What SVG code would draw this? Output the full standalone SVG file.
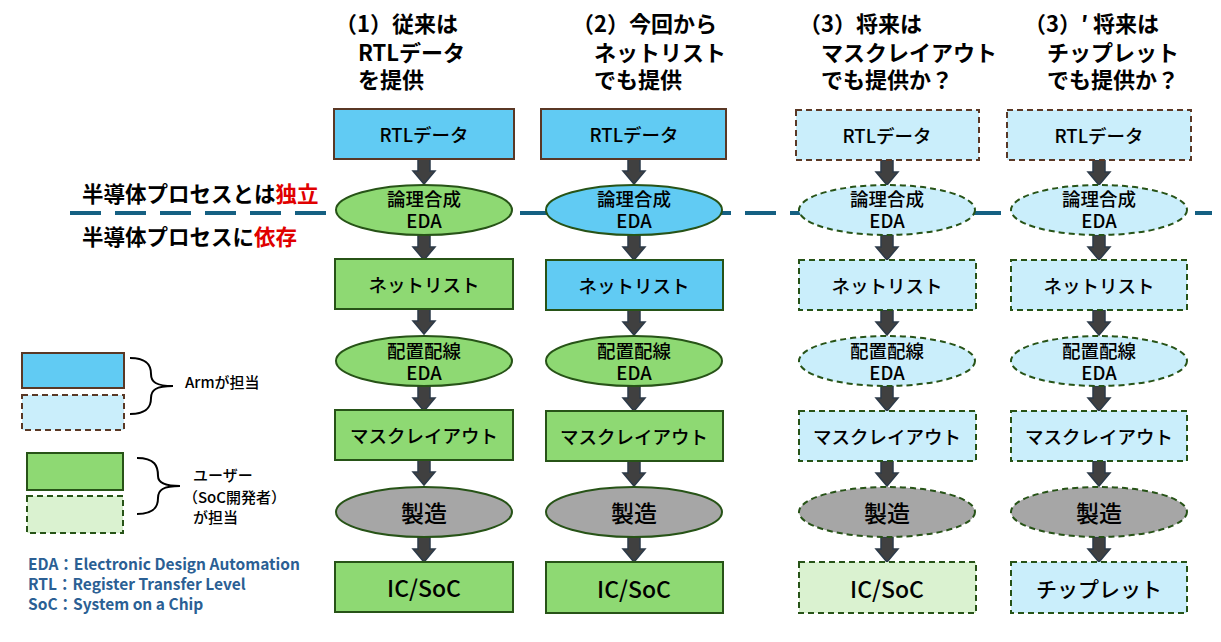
<svg xmlns="http://www.w3.org/2000/svg" width="1221" height="642" viewBox="0 0 1221 642">
<defs>
<style>
text{font-family:"Noto Sans CJK JP","Noto Sans",sans-serif;fill:#000}
.hd{font-size:22px;font-weight:bold}
.side{font-size:21.5px;font-weight:bold}
.red{fill:#E00000}
.nd{font-size:18.5px;text-anchor:middle;dominant-baseline:central;font-weight:500}
.big{font-size:23px}
.leg{font-size:15px;font-weight:500}
.foot{font-size:15.5px;font-weight:bold;fill:#2B5F94}
.blue{fill:#61CBF3;stroke:#5A3825;stroke-width:2}
.bluen{fill:#61CBF3;stroke:#275317;stroke-width:2}
.green{fill:#8ED973;stroke:#275317;stroke-width:2}
.gray{fill:#A6A6A6;stroke:#275317;stroke-width:2}
.lbB{fill:#CAEEFB;stroke:#5A3825;stroke-width:2;stroke-dasharray:6 4}
.lb{fill:#CAEEFB;stroke:#275317;stroke-width:2;stroke-dasharray:6 4}
.grayd{fill:#A6A6A6;stroke:#275317;stroke-width:2;stroke-dasharray:6 4}
.lg{fill:#DAF2D0;stroke:#275317;stroke-width:2;stroke-dasharray:6 4}
.brace{fill:none;stroke:#000;stroke-width:2}
</style>
<path id="arr" d="M-6,0 H6 V12 H11 L0,25 L-11,12 H-6 Z" fill="#404040" stroke="#2C3A48" stroke-width="1.5"/>
</defs>
<rect width="1221" height="642" fill="#fff"/>

<g id="headers">
<text class="hd" x="335" y="32">（1）従来は</text>
<text class="hd" x="358" y="61">RTLデータ</text>
<text class="hd" x="358" y="88">を提供</text>
<text class="hd" x="572" y="32">（2）今回から</text>
<text class="hd" x="594" y="61">ネットリスト</text>
<text class="hd" x="594" y="88">でも提供</text>
<text class="hd" x="799" y="32">（3）将来は</text>
<text class="hd" x="821" y="61">マスクレイアウト</text>
<text class="hd" x="821" y="88">でも提供か？</text>
<text class="hd" x="1024" y="32">（3）′ 将来は</text>
<text class="hd" x="1047" y="61">チップレット</text>
<text class="hd" x="1047" y="88">でも提供か？</text>
</g>

<g id="process-line">
<line x1="70" y1="213" x2="1212" y2="213" stroke="#156082" stroke-width="4" stroke-dasharray="31 14"/>
<text class="side" x="82" y="202">半導体プロセスとは<tspan class="red">独立</tspan></text>
<text class="side" x="82" y="245">半導体プロセスに<tspan class="red">依存</tspan></text>
</g>

<g id="connectors">
<use href="#arr" x="424" y="159"/>
<use href="#arr" x="424" y="235"/>
<use href="#arr" x="424" y="309"/>
<use href="#arr" x="424" y="386"/>
<use href="#arr" x="424" y="460"/>
<use href="#arr" x="424" y="537"/>
<use href="#arr" x="634" y="159"/>
<use href="#arr" x="634" y="235"/>
<use href="#arr" x="634" y="310"/>
<use href="#arr" x="634" y="386"/>
<use href="#arr" x="634" y="461"/>
<use href="#arr" x="634" y="537"/>
<use href="#arr" x="887" y="160"/>
<use href="#arr" x="887" y="235"/>
<use href="#arr" x="887" y="310"/>
<use href="#arr" x="887" y="386"/>
<use href="#arr" x="887" y="461"/>
<use href="#arr" x="887" y="537"/>
<use href="#arr" x="1099" y="160"/>
<use href="#arr" x="1099" y="235"/>
<use href="#arr" x="1099" y="310"/>
<use href="#arr" x="1099" y="386"/>
<use href="#arr" x="1099" y="461"/>
<use href="#arr" x="1099" y="537"/>
</g>

<!-- Column 1 -->
<g id="c1-rtl"><rect class="blue" x="334" y="109" width="180" height="50"/><text class="nd" x="424" y="134">RTLデータ</text></g>
<g id="c1-synth"><ellipse class="green" cx="424" cy="210" rx="88" ry="25"/><text class="nd" x="424" y="198">論理合成</text><text class="nd" x="424" y="220">EDA</text></g>
<g id="c1-netlist"><rect class="green" x="335" y="259" width="178" height="50"/><text class="nd" x="424" y="284">ネットリスト</text></g>
<g id="c1-pnr"><ellipse class="green" cx="424" cy="361" rx="88" ry="25"/><text class="nd" x="424" y="350">配置配線</text><text class="nd" x="424" y="372">EDA</text></g>
<g id="c1-mask"><rect class="green" x="335" y="410" width="178" height="50"/><text class="nd" x="424" y="435">マスクレイアウト</text></g>
<g id="c1-fab"><ellipse class="gray" cx="424" cy="512" rx="88" ry="25"/><text class="nd big" x="424" y="512">製造</text></g>
<g id="c1-ic"><rect class="green" x="335" y="562" width="178" height="50"/><text class="nd big" x="424" y="587">IC/SoC</text></g>

<!-- Column 2 -->
<g id="c2-rtl"><rect class="blue" x="541" y="109" width="185" height="50"/><text class="nd" x="634" y="134">RTLデータ</text></g>
<g id="c2-synth"><ellipse class="bluen" cx="634" cy="210" rx="88" ry="25"/><text class="nd" x="634" y="198">論理合成</text><text class="nd" x="634" y="220">EDA</text></g>
<g id="c2-netlist"><rect class="bluen" x="546" y="260" width="177" height="50"/><text class="nd" x="634" y="285">ネットリスト</text></g>
<g id="c2-pnr"><ellipse class="green" cx="634" cy="361" rx="88" ry="25"/><text class="nd" x="634" y="350">配置配線</text><text class="nd" x="634" y="372">EDA</text></g>
<g id="c2-mask"><rect class="green" x="546" y="411" width="177" height="50"/><text class="nd" x="634" y="436">マスクレイアウト</text></g>
<g id="c2-fab"><ellipse class="gray" cx="634" cy="512" rx="88" ry="25"/><text class="nd big" x="634" y="512">製造</text></g>
<g id="c2-ic"><rect class="green" x="546" y="562" width="177" height="51"/><text class="nd big" x="634" y="588">IC/SoC</text></g>

<!-- Column 3 -->
<g id="c3-rtl"><rect class="lbB" x="796" y="110" width="183" height="50"/><text class="nd" x="887" y="135">RTLデータ</text></g>
<g id="c3-synth"><ellipse class="lb" cx="887" cy="210" rx="88" ry="25"/><text class="nd" x="887" y="198">論理合成</text><text class="nd" x="887" y="220">EDA</text></g>
<g id="c3-netlist"><rect class="lb" x="799" y="260" width="177" height="50"/><text class="nd" x="887" y="285">ネットリスト</text></g>
<g id="c3-pnr"><ellipse class="lb" cx="887" cy="361" rx="88" ry="25"/><text class="nd" x="887" y="350">配置配線</text><text class="nd" x="887" y="372">EDA</text></g>
<g id="c3-mask"><rect class="lb" x="799" y="411" width="177" height="50"/><text class="nd" x="887" y="436">マスクレイアウト</text></g>
<g id="c3-fab"><ellipse class="grayd" cx="887" cy="512" rx="88" ry="25"/><text class="nd big" x="887" y="512">製造</text></g>
<g id="c3-ic"><rect class="lg" x="799" y="562" width="177" height="51"/><text class="nd big" x="887" y="588">IC/SoC</text></g>

<!-- Column 4 -->
<g id="c4-rtl"><rect class="lbB" x="1007" y="110" width="184" height="50"/><text class="nd" x="1099" y="135">RTLデータ</text></g>
<g id="c4-synth"><ellipse class="lb" cx="1099" cy="210" rx="88" ry="25"/><text class="nd" x="1099" y="198">論理合成</text><text class="nd" x="1099" y="220">EDA</text></g>
<g id="c4-netlist"><rect class="lb" x="1011" y="260" width="176" height="50"/><text class="nd" x="1099" y="285">ネットリスト</text></g>
<g id="c4-pnr"><ellipse class="lb" cx="1099" cy="361" rx="88" ry="25"/><text class="nd" x="1099" y="350">配置配線</text><text class="nd" x="1099" y="372">EDA</text></g>
<g id="c4-mask"><rect class="lb" x="1011" y="411" width="176" height="50"/><text class="nd" x="1099" y="436">マスクレイアウト</text></g>
<g id="c4-fab"><ellipse class="grayd" cx="1099" cy="512" rx="88" ry="25"/><text class="nd big" x="1099" y="512">製造</text></g>
<g id="c4-chiplet"><rect class="lb" x="1011" y="562" width="176" height="51"/><text class="nd" x="1099" y="588" style="font-size:21px">チップレット</text></g>

<g id="legend">
<rect class="blue" x="22" y="353" width="102" height="35"/>
<rect class="lbB" x="22" y="395" width="102" height="35"/>
<path class="brace" d="M130,358 C148,358 151,366 151,374 C151,382 156,386 173,386 C156,386 151,390 151,398 C151,406 148,414 130,414"/>
<text class="leg" x="185" y="388">Armが担当</text>
<rect class="green" x="27" y="453" width="96" height="37"/>
<rect class="lg" x="27" y="496" width="96" height="37"/>
<path class="brace" d="M137,458 C155,458 158,466 158,476 C158,482 163,486 180,486 C163,486 158,490 158,498 C158,506 155,514 137,514"/>
<text class="leg" x="193" y="481">ユーザー</text>
<text class="leg" x="183" y="503">（SoC開発者）</text>
<text class="leg" x="193" y="523">が担当</text>
</g>

<g id="footnotes">
<text class="foot" x="28" y="570">EDA：Electronic Design Automation</text>
<text class="foot" x="28" y="590">RTL：Register Transfer Level</text>
<text class="foot" x="28" y="610">SoC：System on a Chip</text>
</g>
</svg>
